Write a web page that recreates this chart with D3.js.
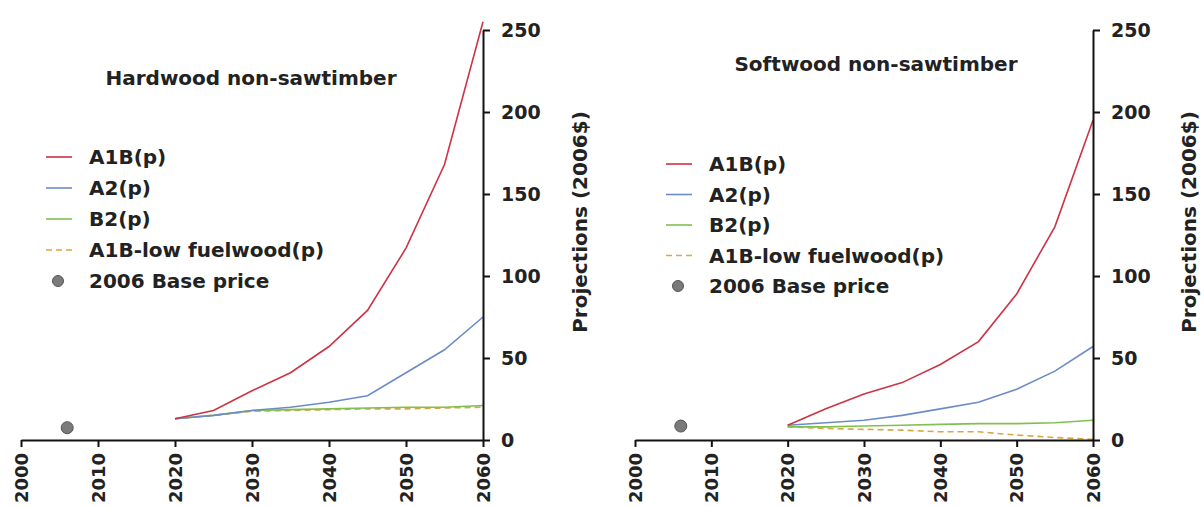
<!DOCTYPE html>
<html>
<head>
<meta charset="utf-8">
<script src="https://cdn.jsdelivr.net/npm/d3@7"></script>
<style>
  body { margin: 0; background: #fff; }
  text { font-family: 'DejaVu Sans', sans-serif; font-weight: bold; fill: #222; }
</style>
</head>
<body>
<div id="chart"></div>
<script>
let years = [2020, 2025, 2030, 2035, 2040, 2045, 2050, 2055, 2060]
let xTicks = [2000, 2010, 2020, 2030, 2040, 2050, 2060]
let yTicks = [0, 50, 100, 150, 200, 250]

let seriesNames = ['A1B(p)', 'A2(p)', 'B2(p)', 'A1B-low fuelwood(p)']
let baseLabel = '2006 Base price'
let baseYear = 2006

// hardwood non-sawtimber
let hardA1B = [13, 18, 30, 41, 57, 79, 117, 168, 255]
let hardA2 = [13, 15, 18, 20, 23, 27, 41, 55, 75]
let hardB2 = [13, 15, 18, 18.5, 19, 19.5, 20, 20, 21]
let hardLow = [13, 15, 17.5, 18, 18.5, 19, 19, 19.5, 20]
let hardBase = 7.5

// softwood non-sawtimber
let softA1B = [9, 19, 28, 35, 46, 60, 89, 130, 195]
let softA2 = [9, 10.5, 12, 15, 19, 23, 31, 42, 57]
let softB2 = [8, 8, 8.5, 9, 9.5, 10, 10, 10.5, 12]
let softLow = [8, 7, 6.5, 6, 5, 5, 3, 1.5, 0.5]
let softBase = 8.5

let colors = ['#cc3344', '#6b8cc7', '#80c050', '#d8a840']
let dashes = [null, null, null, '6,4']

let svg = d3
  .select('#chart')
  .append('svg')
  .attr('width', 1204)
  .attr('height', 507)

let panels = [
  {
    title: 'Hardwood non-sawtimber',
    values: [hardA1B, hardA2, hardB2, hardLow],
    base: hardBase,
    x0: 21, x1: 483,
    titleX: 251, titleY: 85,
    legX: 46, legY: 157, legStep: 31,
    axisTitleX: 580
  },
  {
    title: 'Softwood non-sawtimber',
    values: [softA1B, softA2, softB2, softLow],
    base: softBase,
    x0: 635, x1: 1093,
    titleX: 876, titleY: 71,
    legX: 666, legY: 164, legStep: 30.5,
    axisTitleX: 1189
  }
]

panels.forEach(p => {
  let g = svg.append('g')

  let xPositionScale = d3.scaleLinear().domain([2000, 2060]).range([p.x0, p.x1])
  let yPositionScale = d3.scaleLinear().domain([0, 250]).range([440, 30])

  let line = d3
    .line()
    .x((d, i) => xPositionScale(years[i]))
    .y(d => yPositionScale(d))

  // draw B2 / low first so the red and blue sit on top
  let order = [3, 2, 1, 0]
  order.forEach(k => {
    g.append('path')
      .datum(p.values[k])
      .attr('d', line)
      .attr('fill', 'none')
      .attr('stroke', colors[k])
      .attr('stroke-width', 1.6)
      .attr('stroke-dasharray', dashes[k])
  })

  g.append('circle')
    .attr('cx', xPositionScale(baseYear))
    .attr('cy', yPositionScale(p.base))
    .attr('r', 6)
    .attr('fill', '#7a7a7a')
    .attr('stroke', '#555')
    .attr('stroke-width', 1)

  // x axis
  let xAxis = d3
    .axisBottom(xPositionScale)
    .tickValues(xTicks)
    .tickFormat(d3.format('d'))
    .tickSize(7)
    .tickSizeOuter(0)
  let xg = g.append('g')
    .attr('transform', 'translate(0,440)')
    .call(xAxis)
  xg.select('.domain').attr('stroke', '#111').attr('stroke-width', 2)
  xg.selectAll('.tick line').attr('stroke', '#111').attr('stroke-width', 2)
  // labels are clipped by the frame in the original; keep them inside here
  xg.selectAll('text')
    .attr('transform', 'rotate(-90)')
    .attr('x', -13)
    .attr('y', 0)
    .attr('dy', '0.35em')
    .style('text-anchor', 'end')
    .style('font-size', '18px')
    .attr('fill', '#222')

  // y axis on the right
  let yAxis = d3
    .axisRight(yPositionScale)
    .tickValues(yTicks)
    .tickSize(7)
    .tickSizeOuter(0)
    .tickPadding(11)
  let yg = g.append('g')
    .attr('transform', 'translate(' + p.x1 + ',0)')
    .call(yAxis)
  yg.select('.domain').attr('stroke', '#111').attr('stroke-width', 2)
  yg.selectAll('.tick line').attr('stroke', '#111').attr('stroke-width', 2)
  yg.selectAll('text')
    .style('font-size', '19px')
    .attr('fill', '#222')

  g.append('text')
    .attr('transform', 'translate(' + p.axisTitleX + ',222) rotate(-90)')
    .attr('text-anchor', 'middle')
    .attr('dominant-baseline', 'central')
    .style('font-size', '20px')
    .text('Projections (2006$)')

  g.append('text')
    .attr('x', p.titleX)
    .attr('y', p.titleY)
    .attr('text-anchor', 'middle')
    .style('font-size', '20px')
    .text(p.title)

  // legend
  let leg = g.append('g')
  seriesNames.forEach((name, i) => {
    let y = p.legY + i * p.legStep
    leg.append('line')
      .attr('x1', p.legX)
      .attr('x2', p.legX + 26)
      .attr('y1', y)
      .attr('y2', y)
      .attr('stroke', colors[i])
      .attr('stroke-width', 1.6)
      .attr('stroke-dasharray', dashes[i])
    leg.append('text')
      .attr('x', p.legX + 43)
      .attr('y', y)
      .attr('dominant-baseline', 'central')
      .style('font-size', '20px')
      .text(name)
  })
  let by = p.legY + 4 * p.legStep
  leg.append('circle')
    .attr('cx', p.legX + 12)
    .attr('cy', by)
    .attr('r', 5.5)
    .attr('fill', '#7a7a7a')
    .attr('stroke', '#555')
  leg.append('text')
    .attr('x', p.legX + 43)
    .attr('y', by)
    .attr('dominant-baseline', 'central')
    .style('font-size', '20px')
    .text(baseLabel)
})
</script>
</body>
</html>
